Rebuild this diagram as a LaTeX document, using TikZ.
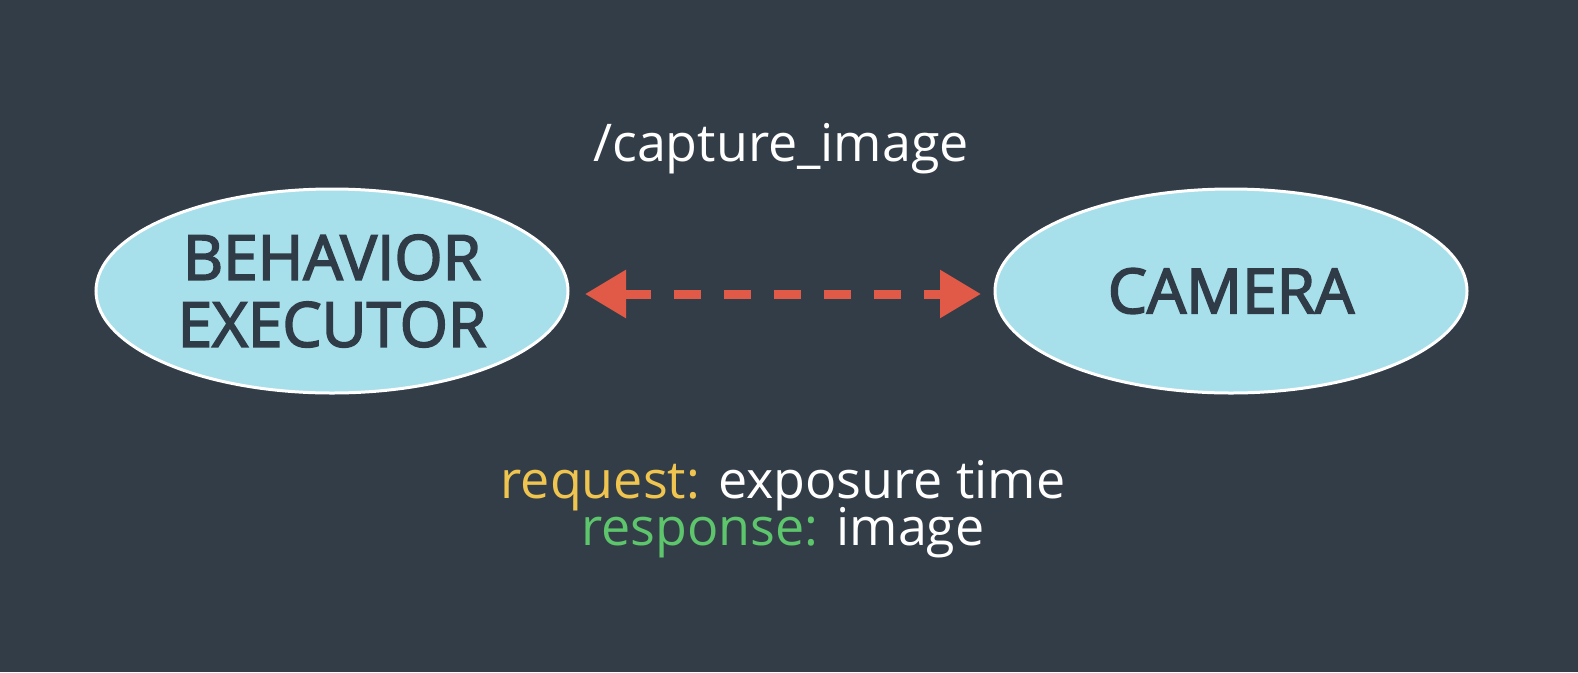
\documentclass[tikz,border=0pt]{standalone}
\usepackage{fontspec}
\setmainfont{Open Sans}
\newfontfamily\semib{Open Sans}[FakeBold=2.8]
\usetikzlibrary{shapes.geometric,arrows.meta}
\definecolor{bg}{HTML}{333D48}
\definecolor{ellfill}{HTML}{A7DFEA}
\definecolor{ink}{HTML}{2F3B47}
\definecolor{arrowred}{HTML}{E05A47}
\definecolor{reqyellow}{HTML}{EFC44F}
\definecolor{resgreen}{HTML}{5DC56B}
\tikzset{
  proc/.style={ellipse, draw=white, line width=3pt, fill=ellfill, text=ink,
    minimum width=472pt, minimum height=204pt, inner sep=0pt, align=center,
    font=\semib\fontsize{62}{67}\selectfont},
  lbl/.style={text=white, inner sep=0pt, align=center, font=\fontsize{52}{53}\selectfont},
  link/.style={draw=arrowred, line width=9pt, dash pattern=on 27pt off 23pt,
    {Triangle[length=41pt,width=46pt]}-{Triangle[length=41pt,width=46pt]}}
}
\begin{document}
\begin{tikzpicture}[x=1pt,y=-1pt]
\fill[bg] (0,0) rectangle (1578,672);
\useasboundingbox (0,0) rectangle (1578,672);
\node[proc] (be) at (332,291) {BEHAVIOR\\EXECUTOR};
\node[proc] (cam) at (1231,291) {CAMERA};
\coordinate (l) at (585,294);
\coordinate (r) at (981,294);
\draw[link] (l) -- (r);
\node[lbl, anchor=base] (topic) at (781,161) {/capture\_image};
\node[lbl, anchor=base] (req) at (783,498) {\textcolor{reqyellow}{request:} exposure time};
\node[lbl, anchor=base] (res) at (783,545) {\textcolor{resgreen}{response:} image};
\end{tikzpicture}
\end{document}
